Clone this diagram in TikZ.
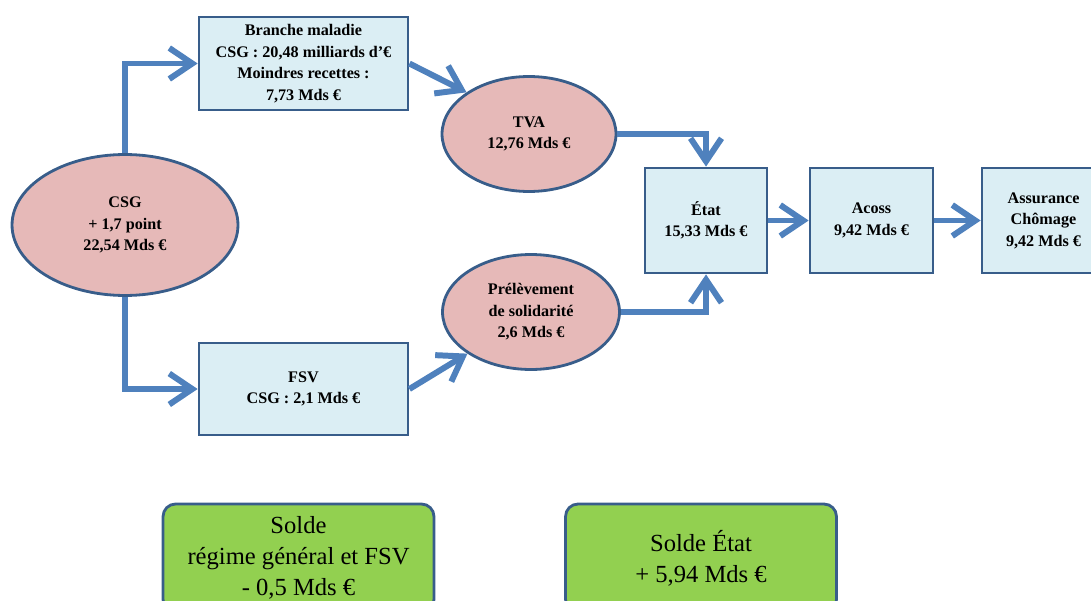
\documentclass[tikz,border=0pt]{standalone}
\usepackage{fontspec}
\setmainfont{Liberation Serif}
\usetikzlibrary{shapes.geometric,arrows.meta}
\definecolor{boxblue}{HTML}{DBEEF4}
\definecolor{edgeblue}{HTML}{385D8A}
\definecolor{pinkfill}{HTML}{E6B9B8}
\definecolor{greenfill}{HTML}{92D050}
\definecolor{flowblue}{HTML}{4F81BD}
\begin{document}
\begin{tikzpicture}[x=0.02cm,y=-0.02cm,line width=1.6pt,font=\fontsize{9.2}{12.2}\selectfont\bfseries,
  caisse/.style={draw=edgeblue,fill=boxblue,align=center,inner sep=0pt},
  impot/.style={ellipse,draw=edgeblue,fill=pinkfill,align=center,inner sep=0pt},
  solde/.style={draw=edgeblue,fill=greenfill,rounded corners=.25cm,align=center,inner sep=0pt,
    minimum width=5.42cm,minimum height=2.16cm,font=\fontsize{14}{17.6}\selectfont},
  flux/.style={draw=flowblue,line width=3.4pt,-{Straight Barb[length=4.6mm,width=6.2mm]}}]
  \useasboundingbox (0,0) rectangle (1091,601);
  % sources
  \node[impot,minimum width=4.52cm,minimum height=2.82cm] (csg) at (125,225) {CSG\\+ 1,7 point\\22,54 Mds €};
  \node[caisse,minimum width=4.18cm,minimum height=1.86cm] (branche) at (303.5,63.5) {Branche maladie\\CSG : 20,48 milliards d’€\\Moindres recettes :\\7,73 Mds €};
  \node[caisse,minimum width=4.18cm,minimum height=1.84cm] (fsv) at (303.5,389) {FSV\\CSG : 2,1 Mds €};
  \node[impot,minimum width=3.48cm,minimum height=2.3cm] (tva) at (529,134) {TVA\\12,76 Mds €};
  \node[impot,minimum width=3.54cm,minimum height=2.3cm] (prel) at (531,312) {Prélèvement\\de solidarité\\2,6 Mds €};
  % chain
  \node[caisse,minimum width=2.44cm,minimum height=2.1cm] (etat) at (706,220.5) {État\\15,33 Mds €};
  \node[caisse,minimum width=2.46cm,minimum height=2.1cm] (acoss) at (871.5,220.5) {Acoss\\9,42 Mds €};
  \node[caisse,minimum width=2.46cm,minimum height=2.1cm] (unedic) at (1043.5,220.5) {Assurance\\Chômage\\9,42 Mds €};
  % balances
  \node[solde] (soldeRG) at (298.5,558) {Solde\\régime général et FSV\\- 0,5 Mds €};
  \node[solde] (soldeEtat) at (701,558) {Solde État\\+ 5,94 Mds €};
  % flows
  \draw[flux] (csg.north) |- (branche.west);
  \draw[flux] (csg.south) |- (fsv.west);
  \draw[flux] (branche.east) -- (tva.north west);
  \draw[flux] (fsv.east) -- (prel.south west);
  \draw[flux] (tva.east) -| (etat.north);
  \draw[flux] (prel.east) -| (etat.south);
  \draw[flux] (etat.east) -- (acoss.west);
  \draw[flux] (acoss.east) -- (unedic.west);
\end{tikzpicture}
\end{document}
